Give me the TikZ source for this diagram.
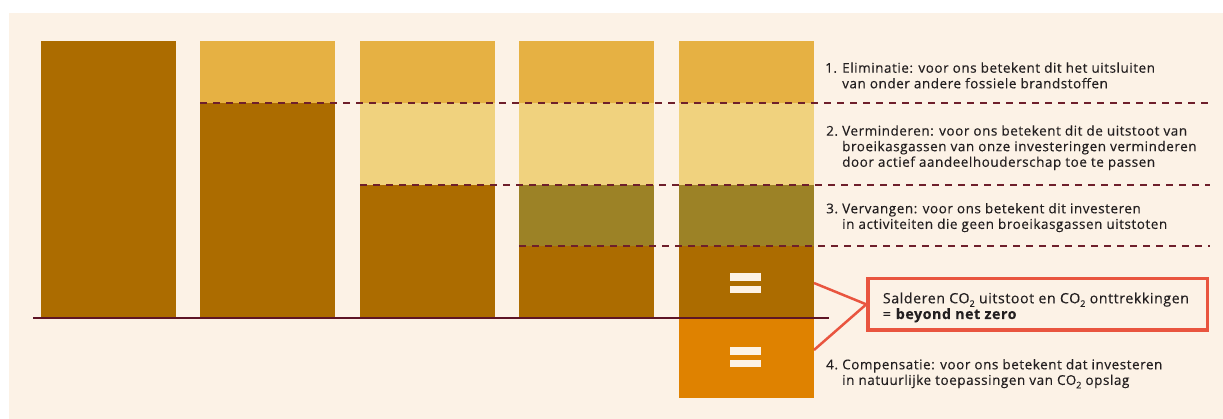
\documentclass[tikz,border=0pt]{standalone}
\usepackage{fontspec}
\setmainfont{Open Sans}[LetterSpace=4,FakeBold=0.3]
\definecolor{bgcream}{HTML}{FCF2E6}
\definecolor{barbrown}{HTML}{AC6C00}
\definecolor{baryellow}{HTML}{E6B143}
\definecolor{barlight}{HTML}{F0D27E}
\definecolor{barolive}{HTML}{9C8226}
\definecolor{barorange}{HTML}{DF8200}
\definecolor{dashmaroon}{HTML}{6E1F2B}
\definecolor{basemaroon}{HTML}{5E1525}
\definecolor{boxred}{HTML}{E9553F}
\definecolor{txtdark}{HTML}{231F20}
\newcommand\subtwo{\raisebox{-0.25em}{\fontsize{9}{9}\selectfont 2}}
\begin{document}
\begin{tikzpicture}[x=1pt,y=-1pt,
  levelline/.style={dashmaroon,line width=2pt,dash pattern=on 7pt off 6pt},
  baseline rule/.style={basemaroon,line width=2pt},
  eqbar/.style={fill=bgcream},
  itemtxt/.style={anchor=base west,inner sep=0pt,text=txtdark,align=left,
    font=\fontsize{13.5}{15.6}\selectfont},
  boxtxt/.style={itemtxt,font=\fontsize{14.2}{15.7}\selectfont},
  callout/.style={draw=boxred,line width=3.5pt,fill=none},
  pointer/.style={boxred,line width=2.5pt}]
\useasboundingbox (0,0) rectangle (1223,419);
\fill[white] (0,0) rectangle (1223,419);
\fill[bgcream] (9,13) rectangle (1223,419);
% bar 1
\fill[barbrown] (41,41) rectangle (176,317);
% bar 2
\fill[baryellow] (200,41) rectangle (335,103);
\fill[barbrown] (200,103) rectangle (335,317);
% bar 3
\fill[baryellow] (360,41) rectangle (495,103);
\fill[barlight] (360,103) rectangle (495,185.3);
\fill[barbrown] (360,185.3) rectangle (495,317);
% bar 4
\fill[baryellow] (519,41) rectangle (654,103);
\fill[barlight] (519,103) rectangle (654,185.3);
\fill[barolive] (519,185.3) rectangle (654,246.5);
\fill[barbrown] (519,246.5) rectangle (654,317);
% bar 5
\fill[baryellow] (679,41) rectangle (814,103);
\fill[barlight] (679,103) rectangle (814,185.3);
\fill[barolive] (679,185.3) rectangle (814,246.5);
\fill[barbrown] (679,246.5) rectangle (814,317);
\fill[barorange] (679,318) rectangle (814,398);
% level lines
\draw[levelline] (200,103) -- (1210,103);
\draw[levelline] (360,185.3) -- (1210,185.3);
\draw[levelline] (519,246.5) -- (1210,246.5);
\draw[baseline rule] (33,318) -- (829,318);
% equal signs
\fill[eqbar] (730,273.3) rectangle (761,280.7);
\fill[eqbar] (730,286) rectangle (761,293);
\fill[eqbar] (730,347.3) rectangle (761,354.7);
\fill[eqbar] (730,360) rectangle (761,367);
% callout
\node[callout,minimum width=339.5pt,minimum height=51.3pt,inner sep=0pt] (box) at (1037.75,304.35) {};
\coordinate (p1) at (814,283);
\coordinate (p2) at (814,350);
\draw[pointer,line join=miter] (p1) -- (box.west) -- (p2);
\node[boxtxt] (boxtext) at (882.7,319) {Salderen CO\subtwo{} uitstoot en CO\subtwo{} onttrekkingen\\= \textbf{beyond net zero}};
% items
\node[itemtxt] (n1) at (825,72.7) {1.};
\node[itemtxt] (t1) at (842,88.3) {Eliminatie: voor ons betekent dit het uitsluiten\\van onder andere fossiele brandstoffen};
\node[itemtxt] (n2) at (826,135.7) {2.};
\node[itemtxt] (t2) at (842,166.8) {Verminderen: voor ons betekent dit de uitstoot van\\broeikasgassen van onze investeringen verminderen\\door actief aandeelhouderschap toe te passen};
\node[itemtxt] (n3) at (826,213.3) {3.};
\node[itemtxt] (t3) at (842,228.9) {Vervangen: voor ons betekent dit investeren\\in activiteiten die geen broeikasgassen uitstoten};
\node[itemtxt] (n4) at (826,369.3) {4.};
\node[itemtxt] (t4) at (842,384.9) {Compensatie: voor ons betekent dat investeren\\in natuurlijke toepassingen van CO\subtwo{} opslag};
\end{tikzpicture}
\end{document}
